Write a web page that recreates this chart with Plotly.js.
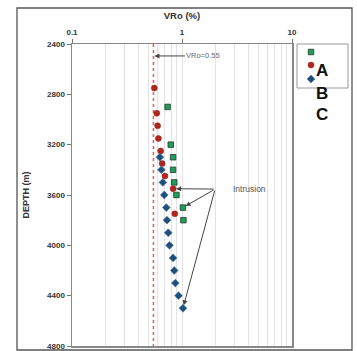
<!DOCTYPE html>
<html><head><meta charset="utf-8">
<script src="https://cdn.plot.ly/plotly-3.0.1.min.js"></script>
<style>html,body{margin:0;padding:0;background:#fff}#c{width:357px;height:351px}</style>
</head><body><div id="c"></div>
<script>
// Sample A (green squares)
const depthA = [2900, 3200, 3300, 3400, 3500, 3600, 3700, 3800];
const vroA   = [0.74, 0.79, 0.83, 0.83, 0.85, 0.89, 1.02, 1.03];
// Sample B (red circles)
const depthB = [2750, 2950, 3050, 3150, 3250, 3350, 3450, 3550, 3750];
const vroB   = [0.56, 0.59, 0.60, 0.61, 0.64, 0.66, 0.70, 0.83, 0.86];
// Sample C (blue diamonds)
const depthC = [3300, 3400, 3500, 3600, 3700, 3800, 3900, 4000, 4100, 4200, 4300, 4400, 4500];
const vroC   = [0.63, 0.65, 0.67, 0.69, 0.72, 0.73, 0.75, 0.77, 0.83, 0.85, 0.87, 0.93, 1.02];
// Reference line
const vroRef = 0.55;
const depthRange = [2400, 4800];
const depthTicks = [2400, 2800, 3200, 3600, 4000, 4400, 4800];
const vroTicks = [0.1, 1, 10];
const vroTickText = ['0.1', '1', '10'];
const legendLabels = ['A', 'B', 'C'];
const intrusionTail = {vro: 2.0, depth: 3553};

const F = 'Liberation Sans, Arial, sans-serif';
const L = Math.log10;

const traces = [
  {x: [vroRef, vroRef], y: depthRange, mode: 'lines', showlegend: false, hoverinfo: 'skip',
   line: {color: '#e06666', width: 1.6, dash: 'dot'}},
  {x: vroA, y: depthA, mode: 'markers', name: ' ', legend: 'legend',
   marker: {symbol: 'square', size: 5.5, color: '#1f9e5a', line: {color: '#1d3b2a', width: 0.8}}},
  {x: vroB, y: depthB, mode: 'markers', name: ' ', legend: 'legend2',
   marker: {symbol: 'circle', size: 6, color: '#b3261e', line: {color: '#8a1c16', width: 0.5}}},
  {x: vroC, y: depthC, mode: 'markers', name: ' ', legend: 'legend3',
   marker: {symbol: 'diamond', size: 6, color: '#1f4e79', line: {color: '#4a7aa6', width: 0.7}}}
];

const px2x = p => (p - 72) / 220;
const px2y = p => (346 - p) / 302;
function leg(yPx) {
  return {x: px2x(291), xanchor: 'left', y: px2y(yPx), yanchor: 'middle',
          bgcolor: 'rgba(0,0,0,0)', borderwidth: 0, font: {size: 6, family: F},
          itemwidth: 30};
}

const arrowStyle = {showarrow: true, arrowhead: 2, arrowsize: 1, arrowwidth: 1,
  arrowcolor: '#444', axref: 'x', ayref: 'y', text: '', standoff: 3,
  ax: L(intrusionTail.vro), ay: intrusionTail.depth};

const layout = {
  width: 357, height: 351,
  margin: {l: 72, r: 65, t: 44, b: 5},
  paper_bgcolor: '#fff', plot_bgcolor: '#fff',
  font: {family: F, color: '#404040'},
  title: {text: 'VRo (%)', x: 0.5, xref: 'paper', xanchor: 'center', y: 1 - 16/351, yanchor: 'middle',
          font: {size: 9.5, weight: 'bold', family: F, color: '#333'}},
  xaxis: {type: 'log', side: 'top', range: [-1, 1], tickvals: vroTicks, ticktext: vroTickText,
          ticks: 'outside', ticklen: 4, tickcolor: '#777', tickwidth: 1,
          tickfont: {size: 8, weight: 'bold', family: F, color: '#333'},
          showline: true, linecolor: '#888', linewidth: 1.5, mirror: true,
          showgrid: true, gridcolor: '#e3e3e3', gridwidth: 1,
          minor: {dtick: 'D1', showgrid: true, gridcolor: '#e3e3e3', gridwidth: 1, ticks: ''},
          zeroline: false, fixedrange: true},
  yaxis: {range: [depthRange[1], depthRange[0]], tickvals: depthTicks,
          ticks: 'outside', ticklen: 4, tickcolor: '#777', tickwidth: 1,
          tickfont: {size: 8, weight: 'bold', family: F, color: '#333'},
          showline: true, linecolor: '#888', linewidth: 1.5, mirror: true,
          showgrid: false, zeroline: false,
          title: {text: 'DEPTH (m)', standoff: 16, font: {size: 9, weight: 'bold', family: F, color: '#333'}}},
  legend: leg(52), legend2: leg(65), legend3: leg(79),
  shapes: [
    {type: 'rect', xref: 'paper', yref: 'paper', x0: px2x(17), x1: px2x(352), y0: px2y(350), y1: px2y(8),
     line: {color: '#555', width: 1.3}},
    {type: 'rect', xref: 'paper', yref: 'paper', x0: px2x(297), x1: px2x(348), y0: px2y(88), y1: px2y(44),
     line: {color: '#999', width: 1}}
  ],
  annotations: [
    {x: L(vroRef), y: 2495, xref: 'x', yref: 'y', text: 'VRo=0.55', showarrow: true,
     ax: 50, ay: 0, arrowhead: 2, arrowsize: 1, arrowwidth: 1, arrowcolor: '#444', standoff: 1,
     font: {size: 7.5, family: F, color: '#666'}},
    {x: L(2.0) + 0.31, y: intrusionTail.depth, xref: 'x', yref: 'y', text: 'Intrusion', showarrow: false,
     font: {size: 8.5, family: F, color: '#555'}},
    Object.assign({x: L(vroB[7]), y: depthB[7], xref: 'x', yref: 'y'}, arrowStyle),
    Object.assign({x: L(vroA[6]), y: depthA[6], xref: 'x', yref: 'y'}, arrowStyle),
    Object.assign({x: L(vroC[12]), y: depthC[12], xref: 'x', yref: 'y'}, arrowStyle),
    {xref: 'paper', yref: 'paper', x: px2x(330), y: px2y(59), text: '<b>' + legendLabels[0] + '</b>', showarrow: false,
     font: {size: 17, family: F, color: '#111'}},
    {xref: 'paper', yref: 'paper', x: px2x(330), y: px2y(82), text: '<b>' + legendLabels[1] + '</b>', showarrow: false,
     font: {size: 17, family: F, color: '#111'}},
    {xref: 'paper', yref: 'paper', x: px2x(330), y: px2y(103), text: '<b>' + legendLabels[2] + '</b>', showarrow: false,
     font: {size: 17, family: F, color: '#111'}}
  ]
};

Plotly.newPlot('c', traces, layout, {displayModeBar: false, staticPlot: true});
</script></body></html>
